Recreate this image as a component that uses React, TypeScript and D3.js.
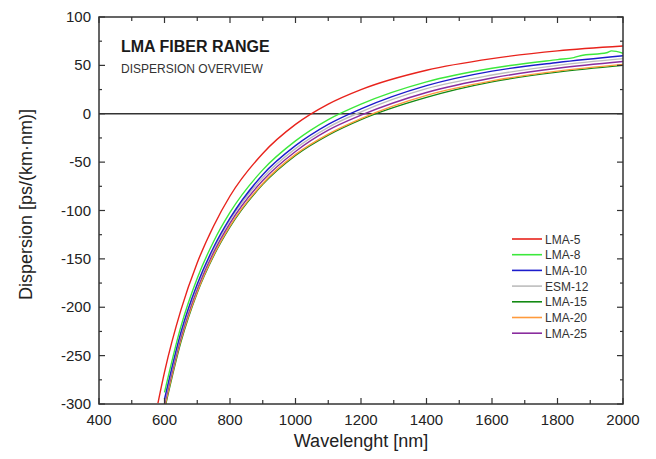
import React, { useEffect, useRef } from 'react';
import * as d3 from 'd3';

// wavelengths in nm, dispersion in ps/(km·nm)
const seriesNames = ['LMA-5', 'LMA-8', 'LMA-10', 'ESM-12', 'LMA-15', 'LMA-20', 'LMA-25'];
const seriesColors = ['#e8231c', '#3ce83c', '#1c1ccc', '#bdbdbd', '#138a13', '#ff9a3c', '#8a2c9e'];

const wlRed = [580, 600, 650, 700, 750, 800, 900, 1000, 1100, 1200, 1400, 1600, 1800, 2000];
const lma5 = [-299, -267, -203, -154, -116, -85, -41, -11, 10, 25, 45, 57, 65, 70];

const wl = [600, 650, 700, 750, 800, 900, 1000, 1100, 1200, 1400, 1600, 1800, 2000];
const lma10 = [-295, -226, -176, -138, -108, -63, -33, -11, 5, 29, 44, 53, 60];
const esm12 = [-297, -228, -178, -140, -110, -66, -36, -14, 2, 26, 40, 50, 57];
const lma15 = [-306, -236, -185, -147, -117, -73, -43, -22, -6, 17, 33, 43, 50];
const lma20 = [-304, -234, -184, -146, -116, -72, -42, -21, -5, 19, 34, 44, 51];
const lma25 = [-300, -231, -181, -143, -113, -69, -39, -17, -1.5, 22, 37, 47, 54];

const wlGreen = [600, 650, 700, 750, 800, 900, 1000, 1100, 1200, 1400, 1600, 1800, 1850, 1870, 1950, 1965, 2000];
const lma8 = [-288, -220, -170, -132, -102, -58, -28, -6, 10, 33, 47, 56, 58, 60, 63, 65, 62.5];

const xTicks = [400, 600, 800, 1000, 1200, 1400, 1600, 1800, 2000];
const yTicks = [100, 50, 0, -50, -100, -150, -200, -250, -300];

const App = () => {
  const svgRef = useRef<SVGSVGElement>(null);

  useEffect(() => {
    const width = 656;
    const height = 459;
    const margin = { top: 17, right: 33, bottom: 55, left: 99 };
    const innerWidth = width - margin.left - margin.right;
    const innerHeight = height - margin.top - margin.bottom;

    const svg = d3.select(svgRef.current);
    svg.selectAll('*').remove();
    svg.attr('width', width).attr('height', height);

    const font = 'Liberation Sans, Arial, sans-serif';

    const x = d3.scaleLinear().domain([400, 2000]).range([0, innerWidth]);
    const y = d3.scaleLinear().domain([-300, 100]).range([innerHeight, 0]);

    const g = svg.append('g').attr('transform', `translate(${margin.left},${margin.top})`);

    svg.append('defs').append('clipPath').attr('id', 'plot-clip')
      .append('rect').attr('width', innerWidth).attr('height', innerHeight);

    const series = [
      { xs: wlRed, ys: lma5 },
      { xs: wlGreen, ys: lma8 },
      { xs: wl, ys: lma10 },
      { xs: wl, ys: esm12 },
      { xs: wl, ys: lma15 },
      { xs: wl, ys: lma20 },
      { xs: wl, ys: lma25 },
    ];

    const line = d3.line<[number, number]>()
      .x(d => x(d[0]))
      .y(d => y(d[1]))
      .curve(d3.curveMonotoneX);

    // zero line
    g.append('line')
      .attr('x1', 0).attr('x2', innerWidth)
      .attr('y1', y(0)).attr('y2', y(0))
      .attr('stroke', '#333').attr('stroke-width', 1.5);

    // draw in back-to-front order so red sits on top
    const order = [4, 5, 6, 3, 2, 1, 0];
    order.forEach(i => {
      const s = series[i];
      g.append('path')
        .datum(s.xs.map((v, k) => [v, s.ys[k]] as [number, number]))
        .attr('clip-path', 'url(#plot-clip)')
        .attr('fill', 'none')
        .attr('stroke', seriesColors[i])
        .attr('stroke-width', 1.4)
        .attr('d', line);
    });

    // frame
    g.append('rect')
      .attr('width', innerWidth).attr('height', innerHeight)
      .attr('fill', 'none').attr('stroke', '#333').attr('stroke-width', 1.5);

    // ticks (inward, on all four sides)
    const tickColor = '#333';
    d3.range(400, 2001, 100).forEach(v => {
      const major = v % 200 === 0;
      const len = major ? 6 : 4;
      g.append('line').attr('x1', x(v)).attr('x2', x(v))
        .attr('y1', innerHeight).attr('y2', innerHeight - len)
        .attr('stroke', tickColor).attr('stroke-width', 1.2);
      g.append('line').attr('x1', x(v)).attr('x2', x(v))
        .attr('y1', 0).attr('y2', len)
        .attr('stroke', tickColor).attr('stroke-width', 1.2);
    });
    d3.range(-300, 101, 25).forEach(v => {
      const major = v % 50 === 0;
      const len = major ? 6 : 3;
      g.append('line').attr('x1', 0).attr('x2', len)
        .attr('y1', y(v)).attr('y2', y(v))
        .attr('stroke', tickColor).attr('stroke-width', 1.2);
      g.append('line').attr('x1', innerWidth).attr('x2', innerWidth - len)
        .attr('y1', y(v)).attr('y2', y(v))
        .attr('stroke', tickColor).attr('stroke-width', 1.2);
    });

    // tick labels
    g.selectAll('.xlab').data(xTicks).enter().append('text')
      .attr('x', d => x(d)).attr('y', innerHeight + 21)
      .attr('text-anchor', 'middle')
      .attr('font-family', font).attr('font-size', 15).attr('fill', '#222')
      .text(d => d);
    g.selectAll('.ylab').data(yTicks).enter().append('text')
      .attr('x', -8).attr('y', d => y(d) + 5)
      .attr('text-anchor', 'end')
      .attr('font-family', font).attr('font-size', 15).attr('fill', '#222')
      .text(d => d);

    // axis titles
    svg.append('text')
      .attr('x', margin.left + innerWidth / 2).attr('y', 447)
      .attr('text-anchor', 'middle')
      .attr('font-family', font).attr('font-size', 18).attr('fill', '#222')
      .text('Wavelenght [nm]');
    svg.append('text')
      .attr('transform', `translate(32,${margin.top + innerHeight / 2 - 6}) rotate(-90)`)
      .attr('text-anchor', 'middle')
      .attr('font-family', font).attr('font-size', 18).attr('fill', '#222')
      .text('Dispersion [ps/(km·nm)]');

    // inner titles
    g.append('text')
      .attr('x', 22).attr('y', 35)
      .attr('font-family', font).attr('font-size', 16).attr('font-weight', 'bold').attr('fill', '#1a1a1a')
      .text('LMA FIBER RANGE');
    g.append('text')
      .attr('x', 22).attr('y', 56)
      .attr('font-family', font).attr('font-size', 12).attr('fill', '#333')
      .text('DISPERSION OVERVIEW');

    // legend
    const legend = svg.append('g').attr('transform', 'translate(512,239)');
    seriesNames.forEach((name, i) => {
      const row = legend.append('g').attr('transform', `translate(0,${i * 15.7})`);
      row.append('line').attr('x1', 0).attr('x2', 30)
        .attr('stroke', seriesColors[i]).attr('stroke-width', 1.6);
      row.append('text').attr('x', 33).attr('y', 4.5)
        .attr('font-family', font).attr('font-size', 12).attr('fill', '#333')
        .text(name);
    });
  }, []);

  return (
    <div style={{ position: 'absolute', left: 0, top: 0 }}>
      <svg ref={svgRef} style={{ display: 'block' }}></svg>
    </div>
  );
};

export default App;
